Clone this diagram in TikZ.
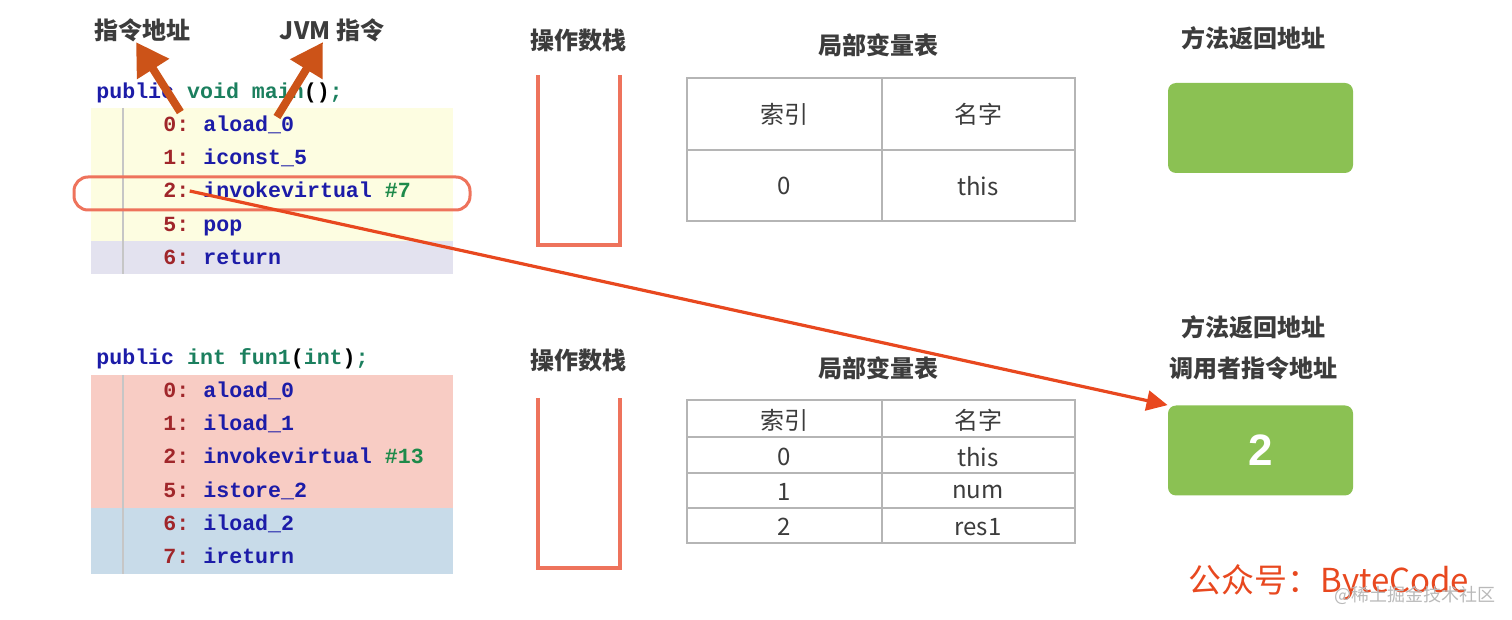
\documentclass[tikz,border=0pt]{standalone}
\usepackage{fontspec}
\setmainfont{Liberation Sans}
\setmonofont{Liberation Mono}
\newfontfamily\cjk{Noto Sans CJK SC}
\usepackage{tikz}
\usetikzlibrary{arrows.meta,positioning,calc}

\definecolor{kwblue}{HTML}{1C1CA8}
\definecolor{kwgreen}{HTML}{1B7F5E}
\definecolor{numred}{HTML}{A0262A}
\definecolor{refgreen}{HTML}{1E8A4A}
\definecolor{bgyellow}{HTML}{FDFDE1}
\definecolor{bglav}{HTML}{E3E2EF}
\definecolor{bgpink}{HTML}{F8CCC4}
\definecolor{bgblue}{HTML}{C8DBE9}
\definecolor{stackred}{HTML}{EE735C}
\definecolor{boxgreen}{HTML}{8BC153}
\definecolor{callred}{HTML}{E8481F}
\definecolor{tagorange}{HTML}{CC5318}
\definecolor{headgray}{HTML}{3C3C3C}
\definecolor{gridgray}{HTML}{B5B5B5}

\begin{document}
\begin{tikzpicture}[
  x=0.5pt, y=-0.5pt,
  head/.style={font=\cjk\bfseries\fontsize{12}{15}\selectfont, text=headgray, inner sep=0pt},
  cell/.style={font=\cjk\fontsize{12}{14}\selectfont, text=headgray, inner sep=0pt},
  code/.style={font=\ttfamily\bfseries\fontsize{10.8}{12}\selectfont, anchor=west,
    inner sep=0pt, text height=1.6ex, text depth=.4ex},
  lnum/.style={code, text=numred},
  op/.style={code, text=kwblue},
  stack/.style={draw=stackred, line width=1.6pt},
  grid/.style={draw=gridgray, line width=0.6pt},
  retbox/.style={fill=boxgreen, rounded corners=4pt, minimum width=92.5pt,
    minimum height=45pt, inner sep=0pt},
  tag/.style={-{Triangle[length=16pt,width=18pt]}, line width=4pt, tagorange},
  call/.style={-{Triangle[length=10.5pt,width=10pt]}, line width=1.6pt, callred}
]
\useasboundingbox (0,0) rectangle (1512,620);

% code backgrounds
\fill[bgyellow] (91,108) rectangle (453,241);
\fill[bglav] (91,241) rectangle (453,274);
\fill[bgpink] (91,375) rectangle (453,508);
\fill[bgblue] (91,508) rectangle (453,574);
\draw[gray!45, line width=0.6pt] (123,108) -- (123,274);
\draw[gray!45, line width=0.6pt] (123,375) -- (123,574);

% main()
\node[head] (addr) at (142,30) {指令地址};
\node[head] (jvm) at (332,30) {JVM 指令};
\node[code] (mainsig) at (96,92) {{\color{kwblue}public} {\color{kwgreen}void main}{\color{black}()}{\color{kwgreen};}};
\node[lnum] (m0) at (163,125) {0:};
\node[op] (i0) at (203,125) {aload\_0};
\node[lnum] (m1) at (163,158) {1:};
\node[op] (i1) at (203,158) {iconst\_5};
\node[lnum] (m2) at (163,191) {2:};
\node[op] (i2) at (203,191) {invokevirtual {\color{refgreen}\#7}};
\node[lnum] (m5) at (163,225) {5:};
\node[op] (i5) at (203,225) {pop};
\node[lnum] (m6) at (163,258) {6:};
\node[op] (i6) at (203,258) {return};
\draw[stackred, line width=1.5pt, rounded corners=7pt] (74,177) rectangle (470,210);
\coordinate (jvmfoot) at (277,117);

% fun1(int)
\node[code] (funsig) at (96,358) {{\color{kwblue}public} {\color{kwgreen}int fun1}{\color{black}(}{\color{kwgreen}int}{\color{black})}{\color{kwgreen};}};
\node[lnum] (f0) at (163,391) {0:};
\node[op] (j0) at (203,391) {aload\_0};
\node[lnum] (f1) at (163,424) {1:};
\node[op] (j1) at (203,424) {iload\_1};
\node[lnum] (f2) at (163,457) {2:};
\node[op] (j2) at (203,457) {invokevirtual {\color{refgreen}\#13}};
\node[lnum] (f5) at (163,491) {5:};
\node[op] (j5) at (203,491) {istore\_2};
\node[lnum] (f6) at (163,524) {6:};
\node[op] (j6) at (203,524) {iload\_2};
\node[lnum] (f7) at (163,557) {7:};
\node[op] (j7) at (203,557) {ireturn};

% operand stacks
\node[head] (st1) at (578,40) {操作数栈};
\draw[stack] (538,75) -- (538,245) -- (620,245) -- (620,75);
\node[head] (st2) at (578,360) {操作数栈};
\draw[stack] (538,398) -- (538,568) -- (620,568) -- (620,398);

% local variable tables
\node[head] (lv1) at (878,45) {局部变量表};
\draw[grid] (687,78) rectangle (1075,221);
\draw[grid] (882,78) -- (882,221);
\draw[grid] (687,150) -- (1075,150);
\node[cell] (ia) at (784,114) {索引};
\node[cell] (na) at (978,114) {名字};
\node[cell] (ia0) at (784,186) {0};
\node[cell] (na0) at (978,186) {this};

\node[head] (lv2) at (878,368) {局部变量表};
\draw[grid] (687,400) rectangle (1075,543);
\draw[grid] (882,400) -- (882,543);
\draw[grid] (687,437) -- (1075,437);
\draw[grid] (687,473) -- (1075,473);
\draw[grid] (687,508) -- (1075,508);
\node[cell] (ib) at (784,420) {索引};
\node[cell] (nb) at (978,420) {名字};
\node[cell] (ib0) at (784,457) {0};
\node[cell] (nb0) at (978,457) {this};
\node[cell] (ib1) at (784,492) {1};
\node[cell] (nb1) at (978,492) {num};
\node[cell] (ib2) at (784,527) {2};
\node[cell] (nb2) at (978,527) {res1};

% return addresses
\node[head] (ra1) at (1253,38) {方法返回地址};
\node[retbox] (r1) at (1260.5,128) {};
\node[head] (ra2) at (1253,327) {方法返回地址};
\node[head] (caller) at (1253,368) {调用者指令地址};
\node[retbox, font=\bfseries\fontsize{22}{24}\selectfont, text=white] (r2) at (1260.5,450.5) {2};

% arrows
\draw[tag] (m0.north) ++(4,-2) -- ($(addr.south)+(-6,0)$);
\draw[tag] (jvmfoot) -- ($(jvm.south)+(-9,0)$);
\draw[call] (m2.east) -- (r2.north west);

\node[font=\cjk\fontsize{16.5}{18}\selectfont, text=callred, inner sep=0pt] (brand) at (1329,582) {公众号：ByteCode};
\node[font=\cjk\fontsize{9}{10}\selectfont, text=gray!55, inner sep=0pt] (mark) at (1415,595) {@稀土掘金技术社区};
\end{tikzpicture}
\end{document}
